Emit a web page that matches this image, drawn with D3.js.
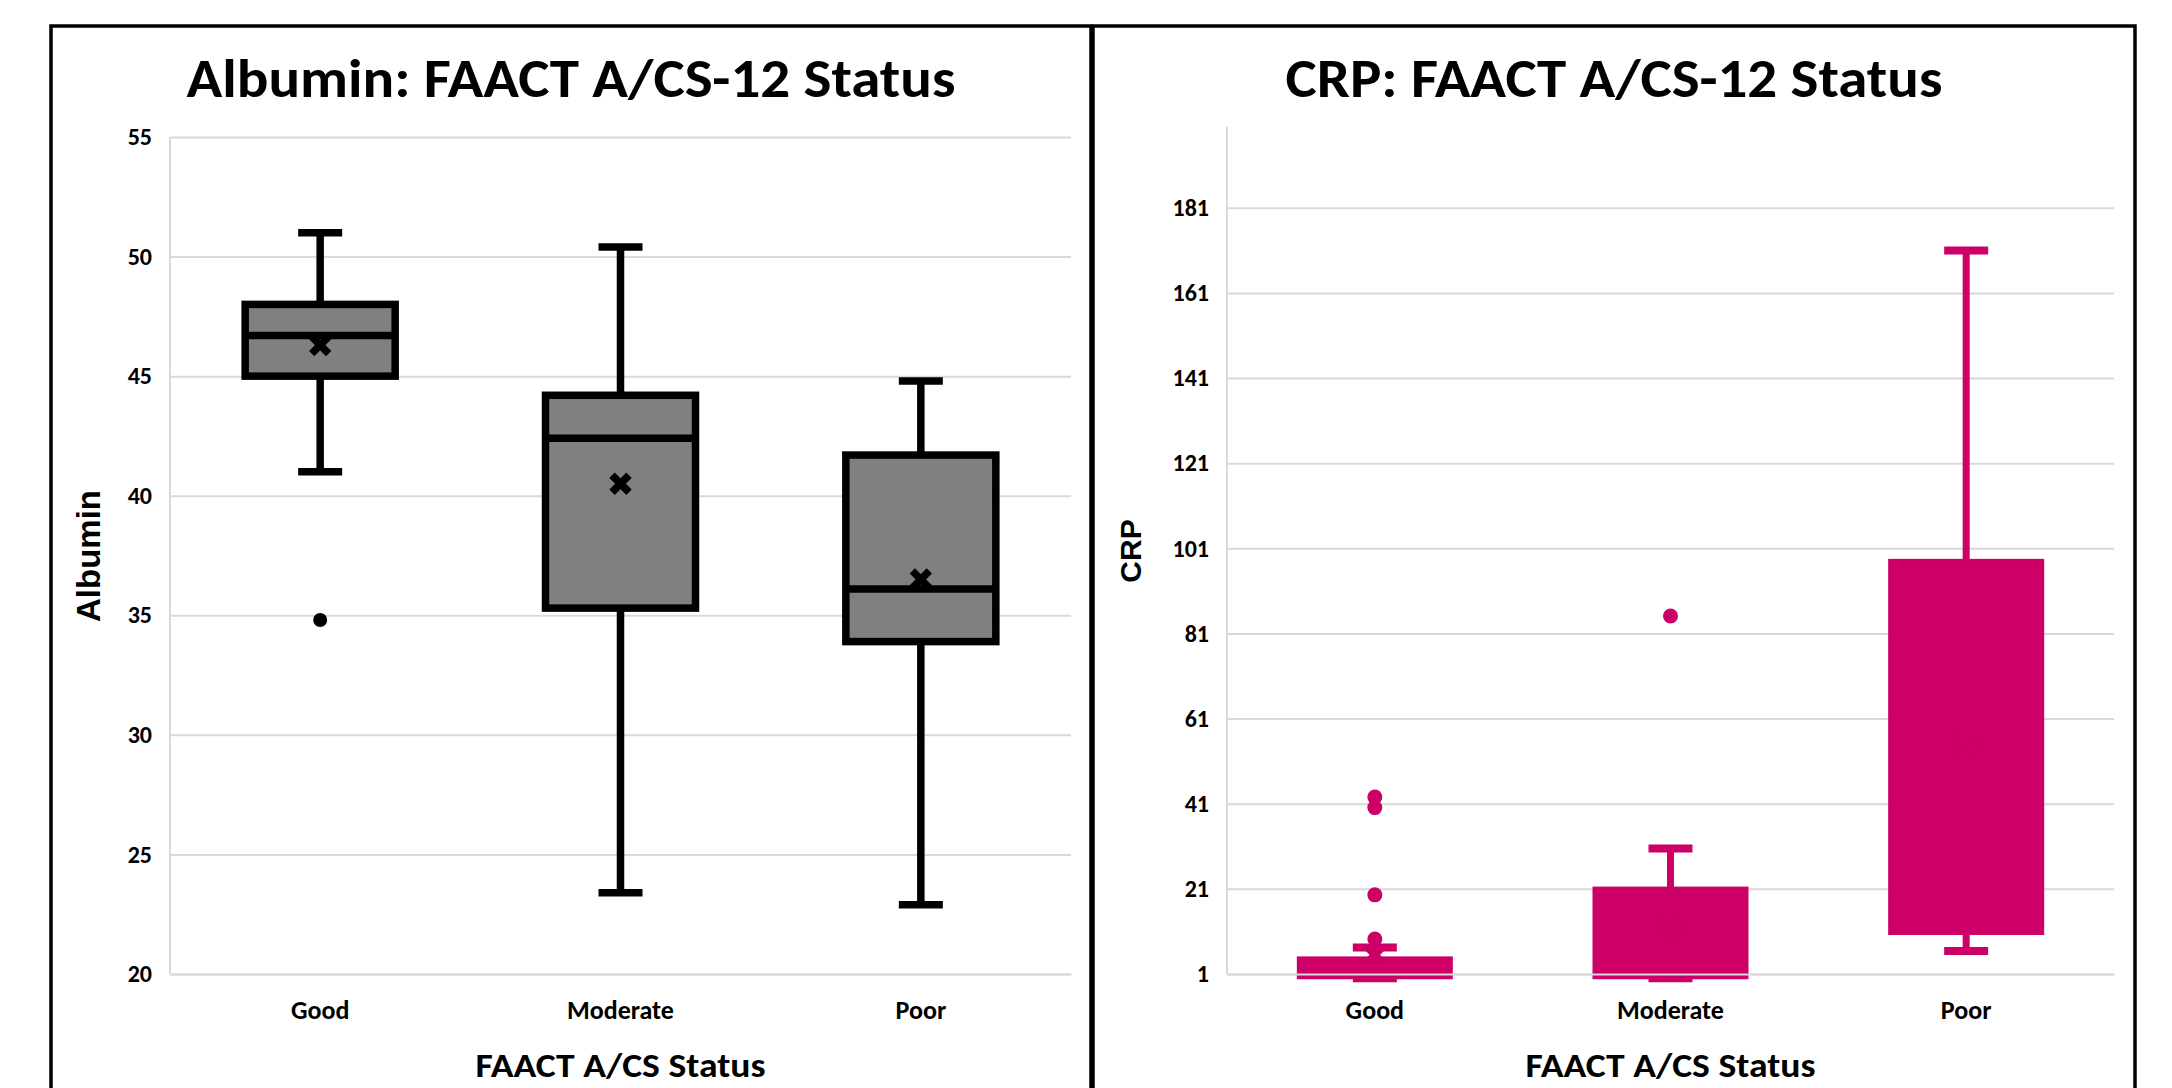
<!DOCTYPE html>
<html><head><meta charset="utf-8">
<script src="https://cdn.jsdelivr.net/npm/d3@7"></script>
<style>html,body{margin:0;padding:0;background:#fff;overflow:hidden}</style>
</head><body><svg id="c" width="2172" height="1088"></svg>
<script>
// ---------- data ----------
const categories = ["Good", "Moderate", "Poor"];

// Albumin by FAACT A/CS-12 status
const albMin     = [41.0, 23.4, 22.9];
const albQ1      = [45.0, 35.3, 33.9];
const albMedian  = [46.7, 42.4, 36.1];
const albQ3      = [48.0, 44.2, 41.7];
const albMax     = [51.0, 50.4, 44.8];
const albMean    = [46.3, 40.5, 36.5];
const albOutliers = [[34.8], [], []];
const albTicks   = [20, 25, 30, 35, 40, 45, 50, 55];
const albDomain  = [20, 55];

// CRP by FAACT A/CS-12 status
const crpMin     = [0.0, 0.0, 6.4];
const crpQ1      = [0.0, 0.0, 10.4];
const crpMedian  = [1.5, 4.0, 40.0];
const crpQ3      = [4.9, 21.3, 98.3];
const crpMax     = [7.2, 30.5, 171.0];
const crpMean    = [5.5, 12.0, 55.0];
const crpOutliers = [[9.2, 19.6, 40.1, 42.6], [85.1], []];
const crpTicks   = [1, 21, 41, 61, 81, 101, 121, 141, 161, 181];
const crpDomain  = [1, 200];

// ---------- drawing ----------
const svg = d3.select("#c");
svg.append("rect").attr("width", 2172).attr("height", 1088).attr("fill", "#fff");

const CAL = "Carlito, Calibri, Lato, sans-serif";
const ARI = "'Liberation Sans', Arial, sans-serif";
const GRID = "#d9d9d9";

function drawPanel(o) {
  const g = svg.append("g");
  g.append("rect").attr("x", o.frame[0]).attr("y", 26)
    .attr("width", o.frame[1] - o.frame[0]).attr("height", 1200)
    .attr("fill", "none").attr("stroke", "#000").attr("stroke-width", 3.5);

  g.append("text").attr("x", (o.frame[0] + o.frame[1]) / 2).attr("y", 97)
    .attr("text-anchor", "middle").attr("font-family", CAL).attr("font-weight", 700)
    .attr("font-size", 54).attr("textLength", o.titleLen).attr("lengthAdjust", "spacingAndGlyphs")
    .text(o.title);

  const x = d3.scaleBand().domain(categories).range([o.x0, o.x1]);
  const y = d3.scaleLinear().domain(o.domain).range([974, o.yTop]);
  const W = o.x1 - o.x0;

  const grid = g.append("g").attr("transform", `translate(${o.x0},0)`)
    .call(d3.axisLeft(y).tickValues(o.ticks).tickSize(-W).tickFormat(""));
  grid.select(".domain").remove();
  grid.selectAll("line").attr("stroke", GRID).attr("stroke-width", 2);

  const ya = g.append("g").attr("transform", `translate(${o.x0},0)`)
    .call(d3.axisLeft(y).tickValues(o.ticks).tickSize(0).tickPadding(18).tickSizeOuter(0));
  ya.select(".domain").remove();
  ya.selectAll("text").attr("font-family", CAL).attr("font-weight", 700)
    .attr("font-size", 24).attr("fill", "#000");

  const bw = x.bandwidth();
  const boxW = o.boxW, capW = 44;
  const data = categories.map((c, i) => ({
    c, min: o.min[i], q1: o.q1[i], med: o.med[i], q3: o.q3[i], max: o.max[i],
    mean: o.mean[i], out: o.out[i]
  }));
  const cx = d => x(d.c) + bw / 2;

  const b = g.append("g").selectAll("g").data(data).join("g");
  b.append("line").attr("x1", cx).attr("x2", cx)
    .attr("y1", d => y(d.max)).attr("y2", d => y(d.q3))
    .attr("stroke", o.line).attr("stroke-width", o.wW);
  b.append("line").attr("x1", cx).attr("x2", cx)
    .attr("y1", d => y(d.q1)).attr("y2", d => y(d.min))
    .attr("stroke", o.line).attr("stroke-width", o.wW);
  b.append("line").attr("x1", d => cx(d) - capW / 2).attr("x2", d => cx(d) + capW / 2)
    .attr("y1", d => y(d.max)).attr("y2", d => y(d.max))
    .attr("stroke", o.line).attr("stroke-width", o.capT);
  b.append("line").attr("x1", d => cx(d) - capW / 2).attr("x2", d => cx(d) + capW / 2)
    .attr("y1", d => y(d.min)).attr("y2", d => y(d.min))
    .attr("stroke", o.line).attr("stroke-width", o.capT);
  b.append("rect").attr("x", d => cx(d) - boxW / 2).attr("width", boxW)
    .attr("y", d => y(d.q3)).attr("height", d => y(d.q1) - y(d.q3))
    .attr("fill", o.fill).attr("stroke", o.line).attr("stroke-width", o.boxS);
  b.append("line").attr("x1", d => cx(d) - boxW / 2).attr("x2", d => cx(d) + boxW / 2)
    .attr("y1", d => y(d.med)).attr("y2", d => y(d.med))
    .attr("stroke", o.line).attr("stroke-width", o.medS);
  const m = 8.5;
  b.append("path")
    .attr("d", d => { const X = cx(d), Y = y(d.mean);
      return `M${X - m},${Y - m}L${X + m},${Y + m}M${X - m},${Y + m}L${X + m},${Y - m}`; })
    .attr("stroke", o.line).attr("stroke-width", 7.5).attr("fill", "none");
  b.selectAll("circle").data(d => d.out.map(v => ({ c: d.c, v }))).join("circle")
    .attr("cx", cx).attr("cy", d => y(d.v)).attr("r", o.outR).attr("fill", o.line);

  const xa = g.append("g").attr("transform", "translate(0,974)")
    .call(d3.axisBottom(x).tickSize(0).tickPadding(27).tickSizeOuter(0));
  xa.select(".domain").attr("stroke", GRID).attr("stroke-width", 2);
  xa.selectAll("text").attr("font-family", CAL).attr("font-weight", 700)
    .attr("font-size", 26).attr("fill", "#000");

  g.append("line").attr("x1", o.x0).attr("x2", o.x0).attr("y1", y(o.domain[1])).attr("y2", 974)
    .attr("stroke", GRID).attr("stroke-width", 2);

  g.append("text").attr("x", (o.x0 + o.x1) / 2).attr("y", 1077).attr("text-anchor", "middle")
    .attr("font-family", CAL).attr("font-weight", 700).attr("font-size", 35)
    .attr("textLength", 290).attr("lengthAdjust", "spacingAndGlyphs")
    .text("FAACT A/CS Status");
  g.append("text").attr("transform", `translate(${o.yTitleX},${o.yTitleY}) rotate(-90)`)
    .attr("text-anchor", "middle").attr("dy", "0.35em")
    .attr("font-family", ARI).attr("font-weight", 700).attr("font-size", o.yTitleSize)
    .text(o.yTitle);
}

drawPanel({
  frame: [51, 1091], title: "Albumin: FAACT A/CS-12 Status", titleLen: 769,
  x0: 170, x1: 1071, yTop: 137, domain: albDomain, ticks: albTicks,
  min: albMin, q1: albQ1, med: albMedian, q3: albQ3, max: albMax, mean: albMean, out: albOutliers,
  fill: "#808080", line: "#000", boxW: 150, boxS: 7.5, medS: 7.5, wW: 7.5, capT: 7.5, outR: 7,
  yTitle: "Albumin", yTitleX: 88, yTitleY: 556, yTitleSize: 33
});

drawPanel({
  frame: [1093, 2135], title: "CRP: FAACT A/CS-12 Status", titleLen: 657,
  x0: 1227, x1: 2114, yTop: 127, domain: crpDomain, ticks: crpTicks,
  min: crpMin, q1: crpQ1, med: crpMedian, q3: crpQ3, max: crpMax, mean: crpMean, out: crpOutliers,
  fill: "#cc0066", line: "#cc0066", boxW: 154, boxS: 2, medS: 2, wW: 7, capT: 8, outR: 7.5,
  yTitle: "CRP", yTitleX: 1130, yTitleY: 551, yTitleSize: 30
});
</script>
</body></html>
